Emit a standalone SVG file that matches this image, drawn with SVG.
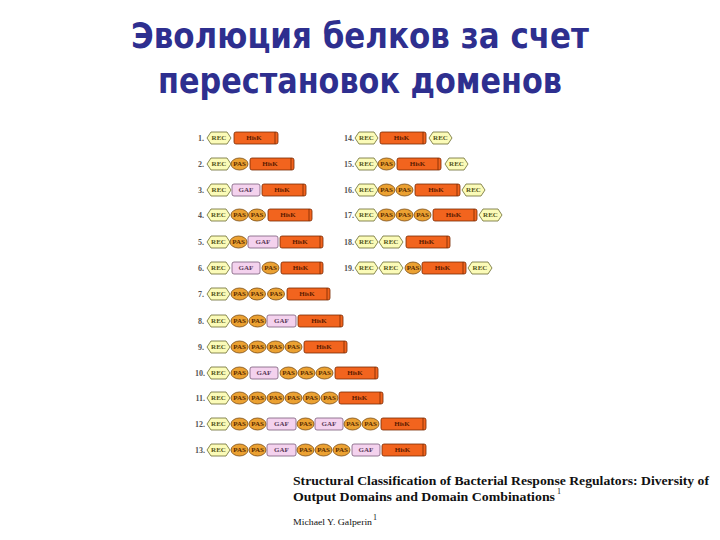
<svg xmlns="http://www.w3.org/2000/svg" width="720" height="540" viewBox="0 0 720 540">
<style>
.title{font-family:"DejaVu Sans","Liberation Sans",sans-serif;font-weight:bold;font-size:35px;fill:#2e2f8f;text-anchor:middle}
.num{font-family:"Liberation Serif",serif;font-weight:bold;font-size:8px;fill:#555;text-anchor:end}
.lbl{font-family:"Liberation Serif",serif;font-weight:bold;font-size:7px;text-anchor:middle;dominant-baseline:central}
.rec{fill:#fbfbb8;stroke:#6b6b30;stroke-width:0.8;stroke-linejoin:round}
.pas{fill:#eba132;stroke:#7a4a10;stroke-width:0.8}
.gaf{fill:#f4d2ee;stroke:#7a5a78;stroke-width:0.8}
.hisk{fill:#f2641e;stroke:#7a2800;stroke-width:0.8}
.cap{stroke:#7a2800;stroke-width:0.8;fill:none}
.trec{fill:#555520}
.tpas{fill:#5a2a00}
.tgaf{fill:#5a3a58}
.this{fill:#5a1a00}
.cit{font-family:"Liberation Serif",serif;font-weight:bold;font-size:13px;fill:#111}
.auth{font-family:"Liberation Serif",serif;font-size:8px;fill:#111}
</style>
<rect width="720" height="540" fill="#ffffff"/>
<g id="title">
<text class="title" x="360" y="48" textLength="458" lengthAdjust="spacingAndGlyphs">Эволюция белков за счет</text>
<text class="title" x="360" y="93" textLength="404" lengthAdjust="spacingAndGlyphs">перестановок доменов</text>
</g>
<g id="row1">
<text class="num" x="204" y="141">1.</text>
<polygon class="rec" points="207,138 211,132 227,132 231,138 227,144 211,144"/><text class="lbl trec" x="219" y="138">REC</text>
<rect class="hisk" x="234" y="132" width="44" height="12" rx="2"/><line class="cap" x1="275" y1="132" x2="275" y2="144"/><text class="lbl this" x="254" y="138">HisK</text>
</g>
<g id="row2">
<text class="num" x="204" y="167">2.</text>
<polygon class="rec" points="207,164 211,158 227,158 231,164 227,170 211,170"/><text class="lbl trec" x="219" y="164">REC</text>
<ellipse class="pas" cx="239.5" cy="164" rx="8.5" ry="6"/><text class="lbl tpas" x="239.5" y="164">PAS</text>
<rect class="hisk" x="250" y="158" width="44" height="12" rx="2"/><line class="cap" x1="291" y1="158" x2="291" y2="170"/><text class="lbl this" x="270" y="164">HisK</text>
</g>
<g id="row3">
<text class="num" x="204" y="193">3.</text>
<polygon class="rec" points="207,190 211,184 227,184 231,190 227,196 211,196"/><text class="lbl trec" x="219" y="190">REC</text>
<rect class="gaf" x="232" y="184" width="28" height="12" rx="2"/><text class="lbl tgaf" x="246" y="190">GAF</text>
<rect class="hisk" x="262" y="184" width="44" height="12" rx="2"/><line class="cap" x1="303" y1="184" x2="303" y2="196"/><text class="lbl this" x="282" y="190">HisK</text>
</g>
<g id="row4">
<text class="num" x="204" y="218">4.</text>
<polygon class="rec" points="207,215 211,209 226,209 230,215 226,221 211,221"/><text class="lbl trec" x="218.5" y="215">REC</text>
<ellipse class="pas" cx="239.5" cy="215" rx="8.5" ry="6"/><text class="lbl tpas" x="239.5" y="215">PAS</text>
<ellipse class="pas" cx="257" cy="215" rx="8.5" ry="6"/><text class="lbl tpas" x="257" y="215">PAS</text>
<rect class="hisk" x="268" y="209" width="44" height="12" rx="2"/><line class="cap" x1="309" y1="209" x2="309" y2="221"/><text class="lbl this" x="288" y="215">HisK</text>
</g>
<g id="row5">
<text class="num" x="204" y="245">5.</text>
<polygon class="rec" points="207,242 211,236 226,236 230,242 226,248 211,248"/><text class="lbl trec" x="218.5" y="242">REC</text>
<ellipse class="pas" cx="238.5" cy="242" rx="8.5" ry="6"/><text class="lbl tpas" x="238.5" y="242">PAS</text>
<rect class="gaf" x="248" y="236" width="30" height="12" rx="2"/><text class="lbl tgaf" x="263" y="242">GAF</text>
<rect class="hisk" x="280" y="236" width="43" height="12" rx="2"/><line class="cap" x1="320" y1="236" x2="320" y2="248"/><text class="lbl this" x="300" y="242">HisK</text>
</g>
<g id="row6">
<text class="num" x="204" y="271">6.</text>
<polygon class="rec" points="207,268 211,262 226,262 230,268 226,274 211,274"/><text class="lbl trec" x="218.5" y="268">REC</text>
<rect class="gaf" x="232" y="262" width="28" height="12" rx="2"/><text class="lbl tgaf" x="246" y="268">GAF</text>
<ellipse class="pas" cx="270.5" cy="268" rx="8.5" ry="6"/><text class="lbl tpas" x="270.5" y="268">PAS</text>
<rect class="hisk" x="281" y="262" width="42" height="12" rx="2"/><line class="cap" x1="320" y1="262" x2="320" y2="274"/><text class="lbl this" x="300.5" y="268">HisK</text>
</g>
<g id="row7">
<text class="num" x="204" y="297">7.</text>
<polygon class="rec" points="207,294 211,288 226,288 230,294 226,300 211,300"/><text class="lbl trec" x="218.5" y="294">REC</text>
<ellipse class="pas" cx="239.5" cy="294" rx="8.5" ry="6"/><text class="lbl tpas" x="239.5" y="294">PAS</text>
<ellipse class="pas" cx="257" cy="294" rx="8.5" ry="6"/><text class="lbl tpas" x="257" y="294">PAS</text>
<ellipse class="pas" cx="276" cy="294" rx="8.5" ry="6"/><text class="lbl tpas" x="276" y="294">PAS</text>
<rect class="hisk" x="287" y="288" width="43" height="12" rx="2"/><line class="cap" x1="327" y1="288" x2="327" y2="300"/><text class="lbl this" x="307" y="294">HisK</text>
</g>
<g id="row8">
<text class="num" x="204" y="324">8.</text>
<polygon class="rec" points="207,321 211,315 226,315 230,321 226,327 211,327"/><text class="lbl trec" x="218.5" y="321">REC</text>
<ellipse class="pas" cx="239.5" cy="321" rx="8.5" ry="6"/><text class="lbl tpas" x="239.5" y="321">PAS</text>
<ellipse class="pas" cx="257.5" cy="321" rx="8.5" ry="6"/><text class="lbl tpas" x="257.5" y="321">PAS</text>
<rect class="gaf" x="267" y="315" width="29" height="12" rx="2"/><text class="lbl tgaf" x="281.5" y="321">GAF</text>
<rect class="hisk" x="298" y="315" width="45" height="12" rx="2"/><line class="cap" x1="340" y1="315" x2="340" y2="327"/><text class="lbl this" x="319" y="321">HisK</text>
</g>
<g id="row9">
<text class="num" x="204" y="350">9.</text>
<polygon class="rec" points="207,347 211,341 226,341 230,347 226,353 211,353"/><text class="lbl trec" x="218.5" y="347">REC</text>
<ellipse class="pas" cx="239.5" cy="347" rx="8.5" ry="6"/><text class="lbl tpas" x="239.5" y="347">PAS</text>
<ellipse class="pas" cx="257.5" cy="347" rx="8.5" ry="6"/><text class="lbl tpas" x="257.5" y="347">PAS</text>
<ellipse class="pas" cx="275.5" cy="347" rx="8.5" ry="6"/><text class="lbl tpas" x="275.5" y="347">PAS</text>
<ellipse class="pas" cx="293.5" cy="347" rx="8.5" ry="6"/><text class="lbl tpas" x="293.5" y="347">PAS</text>
<rect class="hisk" x="304" y="341" width="43" height="12" rx="2"/><line class="cap" x1="344" y1="341" x2="344" y2="353"/><text class="lbl this" x="324" y="347">HisK</text>
</g>
<g id="row10">
<text class="num" x="205" y="376">10.</text>
<polygon class="rec" points="207,373 211,367 226,367 230,373 226,379 211,379"/><text class="lbl trec" x="218.5" y="373">REC</text>
<ellipse class="pas" cx="239.5" cy="373" rx="8.5" ry="6"/><text class="lbl tpas" x="239.5" y="373">PAS</text>
<rect class="gaf" x="250" y="367" width="28" height="12" rx="2"/><text class="lbl tgaf" x="264" y="373">GAF</text>
<ellipse class="pas" cx="288.5" cy="373" rx="8.5" ry="6"/><text class="lbl tpas" x="288.5" y="373">PAS</text>
<ellipse class="pas" cx="306.5" cy="373" rx="8.5" ry="6"/><text class="lbl tpas" x="306.5" y="373">PAS</text>
<ellipse class="pas" cx="324.5" cy="373" rx="8.5" ry="6"/><text class="lbl tpas" x="324.5" y="373">PAS</text>
<rect class="hisk" x="335" y="367" width="43" height="12" rx="2"/><line class="cap" x1="375" y1="367" x2="375" y2="379"/><text class="lbl this" x="355" y="373">HisK</text>
</g>
<g id="row11">
<text class="num" x="205" y="401">11.</text>
<polygon class="rec" points="207,398 211,392 226,392 230,398 226,404 211,404"/><text class="lbl trec" x="218.5" y="398">REC</text>
<ellipse class="pas" cx="239.5" cy="398" rx="8.5" ry="6"/><text class="lbl tpas" x="239.5" y="398">PAS</text>
<ellipse class="pas" cx="257.5" cy="398" rx="8.5" ry="6"/><text class="lbl tpas" x="257.5" y="398">PAS</text>
<ellipse class="pas" cx="275.5" cy="398" rx="8.5" ry="6"/><text class="lbl tpas" x="275.5" y="398">PAS</text>
<ellipse class="pas" cx="293.5" cy="398" rx="8.5" ry="6"/><text class="lbl tpas" x="293.5" y="398">PAS</text>
<ellipse class="pas" cx="311.5" cy="398" rx="8.5" ry="6"/><text class="lbl tpas" x="311.5" y="398">PAS</text>
<ellipse class="pas" cx="329.5" cy="398" rx="8.5" ry="6"/><text class="lbl tpas" x="329.5" y="398">PAS</text>
<rect class="hisk" x="339" y="392" width="44" height="12" rx="2"/><line class="cap" x1="380" y1="392" x2="380" y2="404"/><text class="lbl this" x="359.5" y="398">HisK</text>
</g>
<g id="row12">
<text class="num" x="205" y="427">12.</text>
<polygon class="rec" points="207,424 211,418 226,418 230,424 226,430 211,430"/><text class="lbl trec" x="218.5" y="424">REC</text>
<ellipse class="pas" cx="239.5" cy="424" rx="8.5" ry="6"/><text class="lbl tpas" x="239.5" y="424">PAS</text>
<ellipse class="pas" cx="257.5" cy="424" rx="8.5" ry="6"/><text class="lbl tpas" x="257.5" y="424">PAS</text>
<rect class="gaf" x="267" y="418" width="29" height="12" rx="2"/><text class="lbl tgaf" x="281.5" y="424">GAF</text>
<ellipse class="pas" cx="305.5" cy="424" rx="8.5" ry="6"/><text class="lbl tpas" x="305.5" y="424">PAS</text>
<rect class="gaf" x="315" y="418" width="28" height="12" rx="2"/><text class="lbl tgaf" x="329" y="424">GAF</text>
<ellipse class="pas" cx="352.5" cy="424" rx="8.5" ry="6"/><text class="lbl tpas" x="352.5" y="424">PAS</text>
<ellipse class="pas" cx="370.5" cy="424" rx="8.5" ry="6"/><text class="lbl tpas" x="370.5" y="424">PAS</text>
<rect class="hisk" x="381" y="418" width="45" height="12" rx="2"/><line class="cap" x1="423" y1="418" x2="423" y2="430"/><text class="lbl this" x="402" y="424">HisK</text>
</g>
<g id="row13">
<text class="num" x="205" y="453">13.</text>
<polygon class="rec" points="207,450 211,444 226,444 230,450 226,456 211,456"/><text class="lbl trec" x="218.5" y="450">REC</text>
<ellipse class="pas" cx="239.5" cy="450" rx="8.5" ry="6"/><text class="lbl tpas" x="239.5" y="450">PAS</text>
<ellipse class="pas" cx="257.5" cy="450" rx="8.5" ry="6"/><text class="lbl tpas" x="257.5" y="450">PAS</text>
<rect class="gaf" x="267" y="444" width="29" height="12" rx="2"/><text class="lbl tgaf" x="281.5" y="450">GAF</text>
<ellipse class="pas" cx="305.5" cy="450" rx="8.5" ry="6"/><text class="lbl tpas" x="305.5" y="450">PAS</text>
<ellipse class="pas" cx="323.5" cy="450" rx="8.5" ry="6"/><text class="lbl tpas" x="323.5" y="450">PAS</text>
<ellipse class="pas" cx="341.5" cy="450" rx="8.5" ry="6"/><text class="lbl tpas" x="341.5" y="450">PAS</text>
<rect class="gaf" x="352" y="444" width="28" height="12" rx="2"/><text class="lbl tgaf" x="366" y="450">GAF</text>
<rect class="hisk" x="382" y="444" width="44" height="12" rx="2"/><line class="cap" x1="423" y1="444" x2="423" y2="456"/><text class="lbl this" x="402.5" y="450">HisK</text>
</g>
<g id="row14">
<text class="num" x="354" y="141">14.</text>
<polygon class="rec" points="355,138 359,132 374,132 378,138 374,144 359,144"/><text class="lbl trec" x="366.5" y="138">REC</text>
<rect class="hisk" x="380" y="132" width="46" height="12" rx="2"/><line class="cap" x1="423" y1="132" x2="423" y2="144"/><text class="lbl this" x="401.5" y="138">HisK</text>
<polygon class="rec" points="429,138 433,132 448,132 452,138 448,144 433,144"/><text class="lbl trec" x="440.5" y="138">REC</text>
</g>
<g id="row15">
<text class="num" x="354" y="167">15.</text>
<polygon class="rec" points="355,164 359,158 374,158 378,164 374,170 359,170"/><text class="lbl trec" x="366.5" y="164">REC</text>
<ellipse class="pas" cx="386.5" cy="164" rx="8.5" ry="6"/><text class="lbl tpas" x="386.5" y="164">PAS</text>
<rect class="hisk" x="397" y="158" width="44" height="12" rx="2"/><line class="cap" x1="438" y1="158" x2="438" y2="170"/><text class="lbl this" x="417.5" y="164">HisK</text>
<polygon class="rec" points="445,164 449,158 464,158 468,164 464,170 449,170"/><text class="lbl trec" x="456.5" y="164">REC</text>
</g>
<g id="row16">
<text class="num" x="354" y="193">16.</text>
<polygon class="rec" points="355,190 359,184 374,184 378,190 374,196 359,196"/><text class="lbl trec" x="366.5" y="190">REC</text>
<ellipse class="pas" cx="386.5" cy="190" rx="8.5" ry="6"/><text class="lbl tpas" x="386.5" y="190">PAS</text>
<ellipse class="pas" cx="404.5" cy="190" rx="8.5" ry="6"/><text class="lbl tpas" x="404.5" y="190">PAS</text>
<rect class="hisk" x="415" y="184" width="45" height="12" rx="2"/><line class="cap" x1="457" y1="184" x2="457" y2="196"/><text class="lbl this" x="436" y="190">HisK</text>
<polygon class="rec" points="462,190 466,184 481,184 485,190 481,196 466,196"/><text class="lbl trec" x="473.5" y="190">REC</text>
</g>
<g id="row17">
<text class="num" x="354" y="218">17.</text>
<polygon class="rec" points="355,215 359,209 374,209 378,215 374,221 359,221"/><text class="lbl trec" x="366.5" y="215">REC</text>
<ellipse class="pas" cx="386.5" cy="215" rx="8.5" ry="6"/><text class="lbl tpas" x="386.5" y="215">PAS</text>
<ellipse class="pas" cx="404.5" cy="215" rx="8.5" ry="6"/><text class="lbl tpas" x="404.5" y="215">PAS</text>
<ellipse class="pas" cx="422.5" cy="215" rx="8.5" ry="6"/><text class="lbl tpas" x="422.5" y="215">PAS</text>
<rect class="hisk" x="433" y="209" width="44" height="12" rx="2"/><line class="cap" x1="474" y1="209" x2="474" y2="221"/><text class="lbl this" x="453.5" y="215">HisK</text>
<polygon class="rec" points="479,215 483,209 498,209 502,215 498,221 483,221"/><text class="lbl trec" x="490.5" y="215">REC</text>
</g>
<g id="row18">
<text class="num" x="354" y="245">18.</text>
<polygon class="rec" points="355,242 359,236 374,236 378,242 374,248 359,248"/><text class="lbl trec" x="366.5" y="242">REC</text>
<polygon class="rec" points="379,242 383,236 399,236 403,242 399,248 383,248"/><text class="lbl trec" x="391" y="242">REC</text>
<rect class="hisk" x="406" y="236" width="44" height="12" rx="2"/><line class="cap" x1="447" y1="236" x2="447" y2="248"/><text class="lbl this" x="426.5" y="242">HisK</text>
</g>
<g id="row19">
<text class="num" x="354" y="271">19.</text>
<polygon class="rec" points="355,268 359,262 374,262 378,268 374,274 359,274"/><text class="lbl trec" x="366.5" y="268">REC</text>
<polygon class="rec" points="379,268 383,262 399,262 403,268 399,274 383,274"/><text class="lbl trec" x="391" y="268">REC</text>
<ellipse class="pas" cx="413" cy="268" rx="8" ry="6"/><text class="lbl tpas" x="413" y="268">PAS</text>
<rect class="hisk" x="422" y="262" width="44" height="12" rx="2"/><line class="cap" x1="463" y1="262" x2="463" y2="274"/><text class="lbl this" x="442.5" y="268">HisK</text>
<polygon class="rec" points="468,268 472,262 488,262 492,268 488,274 472,274"/><text class="lbl trec" x="480" y="268">REC</text>
</g>
<g id="citation">
<text class="cit" x="293" y="485" textLength="416" lengthAdjust="spacingAndGlyphs">Structural Classification of Bacterial Response Regulators: Diversity of</text>
<text class="cit" x="293" y="501" textLength="262" lengthAdjust="spacingAndGlyphs">Output Domains and Domain Combinations</text>
<text class="auth" x="557" y="494" font-size="6">1</text>
<text class="auth" x="293" y="525" textLength="79" lengthAdjust="spacingAndGlyphs">Michael Y. Galperin</text>
<text class="auth" x="373" y="520" font-size="5">1</text>
</g>
</svg>
